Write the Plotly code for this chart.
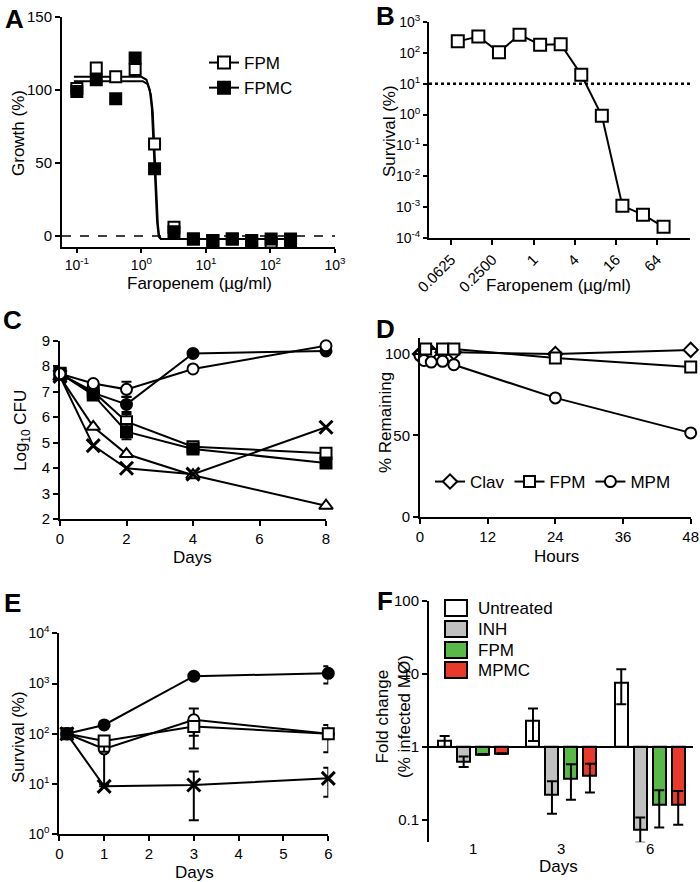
import plotly.graph_objects as go

W, H = 700, 882
FONT = "Arial, 'Liberation Sans', Helvetica, sans-serif"

# ---------------- Panel A: growth vs faropenem ----------------
a_conc = [0.1, 0.2, 0.4, 0.8, 1.6, 3.2, 6.4, 12.8, 25.6, 51.2, 102.4, 204.8]
a_fpm_growth = [101, 115, 109, 114, 63, 6, -2, -3, -2, -3, -4, -3]
a_fpmc_growth = [99, 107, 94, 122, 46, 3, -2, -3, -2, -4, -2, -2]
a_fit_fpm_x = [0.09, 1.0, 1.2, 1.35, 1.45, 1.55, 1.65, 1.75, 1.85, 2.0, 205]
a_fit_fpm_y = [109, 109, 107, 100, 88, 65, 35, 10, 0, -2, -2]
a_fit_fpmc_x = [0.09, 1.05, 1.25, 1.4, 1.5, 1.6, 1.7, 1.8, 1.9, 2.05, 205]
a_fit_fpmc_y = [106, 106, 104, 97, 85, 62, 32, 8, -1, -2, -2]
a_xtickvals = [0.1, 1, 10, 100, 1000]
a_xticktext = ["10<sup>-1</sup>", "10<sup>0</sup>", "10<sup>1</sup>", "10<sup>2</sup>", "10<sup>3</sup>"]

# ---------------- Panel B: survival vs faropenem ----------------
b_conc = [0.078, 0.156, 0.3125, 0.625, 1.25, 2.5, 5, 10, 20, 40, 80]
b_surv = [236, 340, 105, 387, 183, 190, 19.5, 0.91, 0.0011, 0.00057, 0.00023]
b_xtickvals = [0.0625, 0.25, 1, 4, 16, 64]
b_xticktext = ["0.0625", "0.2500", "1", "4", "16", "64"]
b_ytickvals = [1e-4, 1e-3, 1e-2, 1e-1, 1, 10, 100, 1000]
b_yticktext = ["10<sup>-4</sup>", "10<sup>-3</sup>", "10<sup>-2</sup>", "10<sup>-1</sup>",
               "10<sup>0</sup>", "10<sup>1</sup>", "10<sup>2</sup>", "10<sup>3</sup>"]
b_threshold = 10

# ---------------- Panel C: log10 CFU vs days ----------------
c_days = [0, 1, 2, 4, 8]
c_open_circle = [7.7, 7.32, 7.09, 7.89, 8.8]
c_open_circle_err = [0, 0, 0.3, 0, 0]
c_filled_circle = [7.7, 6.95, 6.5, 8.5, 8.6]
c_filled_circle_err = [0, 0, 0.3, 0, 0]
c_open_square = [7.7, 7.0, 5.82, 4.84, 4.58]
c_open_square_err = [0, 0, 0.3, 0, 0]
c_filled_square = [7.72, 6.87, 5.43, 4.75, 4.2]
c_filled_square_err = [0, 0, 0.3, 0, 0]
c_triangle = [7.58, 5.62, 4.55, 3.72, 2.52]
c_cross = [7.6, 4.88, 3.99, 3.76, 5.6]

# ---------------- Panel D: % remaining vs hours ----------------
d_clav_h = [0, 1, 2, 4, 6, 24, 48]
d_clav = [100, 101, 101, 101, 101, 100, 102.5]
d_fpm_h = [1, 4, 6, 24, 48]
d_fpm = [103, 103, 103, 97.5, 92]
d_mpm_h = [0, 0.7, 2, 4, 6, 24, 48]
d_mpm = [99, 96, 95, 95.5, 93.4, 73, 51.5]

# ---------------- Panel E: survival vs days ----------------
e_days = [0.17, 1, 3, 6]
e_filled_circle = [100, 150, 1400, 1600]
e_filled_circle_plus = [0, 0, 0, 600]
e_filled_circle_minus = [0, 0, 0, 600]
e_open_circle = [100, 50, 190, 100]
e_open_circle_plus = [0, 0, 130, 0]
e_open_circle_minus = [0, 40, 139, 0]
e_open_square = [100, 72, 140, 100]
e_open_square_plus = [0, 0, 0, 50]
e_open_square_minus = [0, 28, 49, 57]
e_cross = [100, 9, 9.6, 13]
e_cross_plus = [0, 0, 8.1, 8]
e_cross_minus = [0, 0, 7.7, 7.4]
e_ytickvals = [1, 10, 100, 1000, 10000]
e_yticktext = ["10<sup>0</sup>", "10<sup>1</sup>", "10<sup>2</sup>", "10<sup>3</sup>", "10<sup>4</sup>"]

# ---------------- Panel F: fold change bars ----------------
f_days = ["1", "3", "6"]
f_groups = ["Untreated", "INH", "FPM", "MPMC"]
f_colors = ["#ffffff", "#c0c0c0", "#58b947", "#e8392b"]
f_values = {
    "Untreated": [1.21, 2.27, 7.6],
    "INH": [0.62, 0.225, 0.074],
    "FPM": [0.79, 0.368, 0.162],
    "MPMC": [0.81, 0.41, 0.162],
}
f_hi = {
    "Untreated": [1.41, 3.35, 11.5],
    "INH": [0.74, 0.34, 0.108],
    "FPM": [0.8, 0.58, 0.255],
    "MPMC": [0.82, 0.59, 0.25],
}
f_lo = {
    "Untreated": [1.0, 1.2, 3.84],
    "INH": [0.53, 0.122, 0.049],
    "FPM": [0.78, 0.19, 0.079],
    "MPMC": [0.8, 0.237, 0.086],
}
f_baseline = 1


def dom(x0, x1, y0, y1):
    return [x0 / W, x1 / W], [1 - y1 / H, 1 - y0 / H]


def px(x, y):
    return x / W, 1 - y / H


fig = go.Figure()

LINE = dict(color="black", width=2)


def mk(symbol, fill, size=11):
    return dict(symbol=symbol, size=size, color=fill, line=dict(color="black", width=2))


def err(plus, minus=None):
    d = dict(type="data", array=plus, color="black", thickness=2, width=5, visible=True)
    if minus is not None:
        d["symmetric"] = False
        d["arrayminus"] = minus
    return d


# ---- A
fig.add_trace(go.Scatter(x=a_fit_fpm_x, y=a_fit_fpm_y, mode="lines", line=LINE,
                         xaxis="x", yaxis="y", showlegend=False))
fig.add_trace(go.Scatter(x=a_fit_fpmc_x, y=a_fit_fpmc_y, mode="lines", line=LINE,
                         xaxis="x", yaxis="y", showlegend=False))
fig.add_trace(go.Scatter(x=a_conc, y=a_fpm_growth, mode="markers", marker=mk("square", "white"),
                         xaxis="x", yaxis="y", showlegend=False, cliponaxis=False))
fig.add_trace(go.Scatter(x=a_conc, y=a_fpmc_growth, mode="markers", marker=mk("square", "black"),
                         xaxis="x", yaxis="y", showlegend=False, cliponaxis=False))
fig.add_trace(go.Scatter(x=[None], y=[None], mode="lines+markers", name="FPM", line=LINE,
                         marker=mk("square", "white", 12), xaxis="x", yaxis="y", legend="legend"))
fig.add_trace(go.Scatter(x=[None], y=[None], mode="lines+markers", name="FPMC", line=LINE,
                         marker=mk("square", "black", 12), xaxis="x", yaxis="y", legend="legend"))

# ---- B
fig.add_trace(go.Scatter(x=b_conc, y=b_surv, mode="lines+markers", line=LINE,
                         marker=mk("square", "white", 12), xaxis="x2", yaxis="y2",
                         showlegend=False, cliponaxis=False))

# ---- C
c_series = [
    (c_triangle, None, "triangle-up", "white"),
    (c_cross, None, "x-thin", "black"),
    (c_open_square, c_open_square_err, "square", "white"),
    (c_filled_square, c_filled_square_err, "square", "black"),
    (c_filled_circle, c_filled_circle_err, "circle", "black"),
    (c_open_circle, c_open_circle_err, "circle", "white"),
]
for vals, e, sym, fill in c_series:
    if sym == "x-thin":
        marker = dict(symbol="x-thin", size=13, color="black", line=dict(color="black", width=3))
    elif sym == "triangle-up":
        marker = mk(sym, fill, 12)
    else:
        marker = mk(sym, fill, 11)
    fig.add_trace(go.Scatter(x=c_days, y=vals, mode="lines+markers", line=LINE, marker=marker,
                             error_y=err(e) if e else None, xaxis="x3", yaxis="y3",
                             showlegend=False, cliponaxis=False))

# ---- D
fig.add_trace(go.Scatter(x=d_clav_h, y=d_clav, mode="lines+markers", name="Clav", line=LINE,
                         marker=mk("diamond", "white", 11), xaxis="x4", yaxis="y4",
                         legend="legend2", cliponaxis=False, legendrank=1))
fig.add_trace(go.Scatter(x=d_mpm_h, y=d_mpm, mode="lines+markers", name="MPM", line=LINE,
                         marker=mk("circle", "white", 11), xaxis="x4", yaxis="y4",
                         legend="legend2", cliponaxis=False, legendrank=3))
fig.add_trace(go.Scatter(x=d_fpm_h, y=d_fpm, mode="lines+markers", name="FPM", line=LINE,
                         marker=mk("square", "white", 11), xaxis="x4", yaxis="y4",
                         legend="legend2", cliponaxis=False, legendrank=2))

# ---- E
e_series = [
    (e_cross, e_cross_plus, e_cross_minus, "x-thin", "black"),
    (e_open_circle, e_open_circle_plus, e_open_circle_minus, "circle", "white"),
    (e_open_square, e_open_square_plus, e_open_square_minus, "square", "white"),
    (e_filled_circle, e_filled_circle_plus, e_filled_circle_minus, "circle", "black"),
]
for vals, p, m, sym, fill in e_series:
    if sym == "x-thin":
        marker = dict(symbol="x-thin", size=13, color="black", line=dict(color="black", width=3))
    else:
        marker = mk(sym, fill, 11)
    fig.add_trace(go.Scatter(x=e_days, y=vals, mode="lines+markers", line=LINE, marker=marker,
                             error_y=err(p, m), xaxis="x5", yaxis="y5",
                             showlegend=False, cliponaxis=False))

# ---- F
slot = 0.215
bw = 0.147
for k, g in enumerate(f_groups):
    xs = [i + (k - 1.5) * slot for i in range(len(f_days))]
    vals = f_values[g]
    fig.add_trace(go.Bar(x=xs, y=[v - f_baseline for v in vals], base=f_baseline, width=bw,
                         name=g, marker=dict(color=f_colors[k], line=dict(color="black", width=2)),
                         xaxis="x6", yaxis="y6", showlegend=False))
for k, g in enumerate(f_groups):
    xs = [i + (k - 1.5) * slot for i in range(len(f_days))]
    vals = f_values[g]
    plus = [h - v for h, v in zip(f_hi[g], vals)]
    minus = [v - l for l, v in zip(f_lo[g], vals)]
    fig.add_trace(go.Scatter(x=xs, y=vals, mode="markers", marker=dict(size=1, opacity=0),
                             error_y=err(plus, minus), xaxis="x6", yaxis="y6",
                             showlegend=False, cliponaxis=False))


def axis(xd, anchor, **kw):
    d = dict(domain=xd, anchor=anchor, showline=True, linecolor="black", linewidth=2,
             ticks="outside", ticklen=5, tickwidth=2, tickcolor="black", showgrid=False,
             zeroline=False, tickfont=dict(size=15, color="black"), mirror=False,
             automargin=False)
    d.update(kw)
    return d


ax, ay = dom(62, 335, 17, 247)
bx, by = dom(429, 690, 22, 238)
cx, cy = dom(60, 326, 340.7, 519)
dx, dy = dom(420, 690.7, 337.7, 516.7)
ex, ey = dom(59.3, 328.3, 633.3, 834.3)
fx, fy = dom(429, 693, 600.7, 842.3)

SUPF = dict(size=14, color="black")

shapes = [
    dict(type="line", xref="x domain", yref="y", x0=0, x1=1, y0=0, y1=0,
         line=dict(color="black", width=1.5, dash="dash"), layer="below"),
    dict(type="line", xref="x2 domain", yref="y2", x0=0, x1=1, y0=b_threshold, y1=b_threshold,
         line=dict(color="black", width=2.5, dash="dot"), layer="below"),
    dict(type="line", xref="x6 domain", yref="y6", x0=0, x1=1, y0=f_baseline, y1=f_baseline,
         line=dict(color="black", width=2)),
]

# manual legend for panel F (boxes)
f_leg_y = [608, 629, 650, 670]
for k, g in enumerate(f_groups):
    x0, y0 = px(445, f_leg_y[k] - 8)
    x1, y1 = px(467, f_leg_y[k] + 8)
    shapes.append(dict(type="rect", xref="paper", yref="paper", x0=x0, x1=x1, y0=y1, y1=y0,
                       fillcolor=f_colors[k], line=dict(color="black", width=2)))

fig.update_layout(
    width=W, height=H, margin=dict(l=0, r=0, t=0, b=0),
    plot_bgcolor="white", paper_bgcolor="white",
    font=dict(family=FONT, color="black", size=15),
    bargap=0, barmode="overlay",
    xaxis=axis(ax, "y", type="log", range=[-1.23, 3], tickvals=a_xtickvals, ticktext=a_xticktext,
               tickfont=SUPF, ticklen=4),
    yaxis=axis(ay, "x", range=[-7.5, 150], tickvals=[0, 50, 100, 150]),
    xaxis2=axis(bx, "y2", type="log", range=[-1.529, 2.29], tickvals=b_xtickvals,
                ticktext=b_xticktext, tickangle=-45),
    yaxis2=axis(by, "x2", type="log", range=[-4, 3], tickvals=b_ytickvals, ticktext=b_yticktext,
                tickfont=SUPF, ticklen=4),
    xaxis3=axis(cx, "y3", range=[0, 8], tickvals=[0, 2, 4, 6, 8]),
    yaxis3=axis(cy, "x3", range=[2, 9], tickvals=[2, 3, 4, 5, 6, 7, 8, 9]),
    xaxis4=axis(dx, "y4", range=[0, 48], tickvals=[0, 12, 24, 36, 48]),
    yaxis4=axis(dy, "x4", range=[0, 110], tickvals=[0, 50, 100]),
    xaxis5=axis(ex, "y5", range=[0, 6], tickvals=[0, 1, 2, 3, 4, 5, 6]),
    yaxis5=axis(ey, "x5", type="log", range=[0, 4], tickvals=e_ytickvals, ticktext=e_yticktext,
                tickfont=SUPF),
    xaxis6=axis(fx, "y6", range=[-0.5, 2.49], tickvals=[0, 1, 2], showticklabels=False,
                showline=False, ticks=""),
    yaxis6=axis(fy, "x6", type="log", range=[-1.305, 2], tickvals=[0.1, 1, 10, 100],
                ticktext=["0.1", "1", "10", "100"]),
    legend=dict(x=204 / W, y=1 - 45 / H, xanchor="left", yanchor="top",
                font=dict(size=17, color="black"), bgcolor="rgba(0,0,0,0)", itemwidth=30),
    legend2=dict(x=430 / W, y=1 - 482 / H, xanchor="left", yanchor="middle", orientation="h",
                 font=dict(size=17, color="black"), bgcolor="rgba(0,0,0,0)", itemwidth=30),
    shapes=shapes,
)

for k, g in enumerate(f_groups):
    x, y = px(476, f_leg_y[k])
    fig.add_annotation(text=g, x=x, y=y, xref="paper", yref="paper", showarrow=False,
                       xanchor="left", yanchor="middle", font=dict(size=17, color="black", family=FONT))

for i, d in enumerate(f_days):
    fig.add_annotation(text=d, x=i, y=1 - 848 / H, xref="x6", yref="paper", showarrow=False,
                       xanchor="center", yanchor="middle", font=dict(size=15, color="black", family=FONT))

letters = [("A", 14, 19), ("B", 386, 16), ("C", 12, 320), ("D", 385, 329), ("E", 12, 603), ("F", 385, 601)]
for t, x, y in letters:
    fig.add_annotation(text="<b>%s</b>" % t, x=x / W, y=1 - y / H, xref="paper", yref="paper",
                       showarrow=False, xanchor="center", yanchor="middle",
                       font=dict(size=26, color="black", family=FONT))

# axis titles (text, x px, y px, angle)
titles = [
    ("Faropenem (µg/ml)", 199, 283, 0),
    ("Growth (%)", 18, 133, -90),
    ("Faropenem (µg/ml)", 558, 285, 0),
    ("Survival (%)", 390, 131, -90),
    ("Days", 193, 557, 0),
    ("Log<sub>10</sub> CFU", 22, 431, -90),
    ("Hours", 556, 556, 0),
    ("% Remaining", 385, 423, -90),
    ("Days", 194, 872, 0),
    ("Survival (%)", 18, 737, -90),
    ("Days", 558, 866, 0),
    ("Fold change<br>(% infected MØ)", 393, 717, -90),
]
for t, x, y, ang in titles:
    fig.add_annotation(text=t, x=x / W, y=1 - y / H, xref="paper", yref="paper",
                       showarrow=False, xanchor="center", yanchor="middle", textangle=ang,
                       font=dict(size=17, color="black", family=FONT))

fig.write_html("out.html", config={"displayModeBar": False},
               post_script="document.body.style.margin='0px';document.body.style.overflow='hidden';")
